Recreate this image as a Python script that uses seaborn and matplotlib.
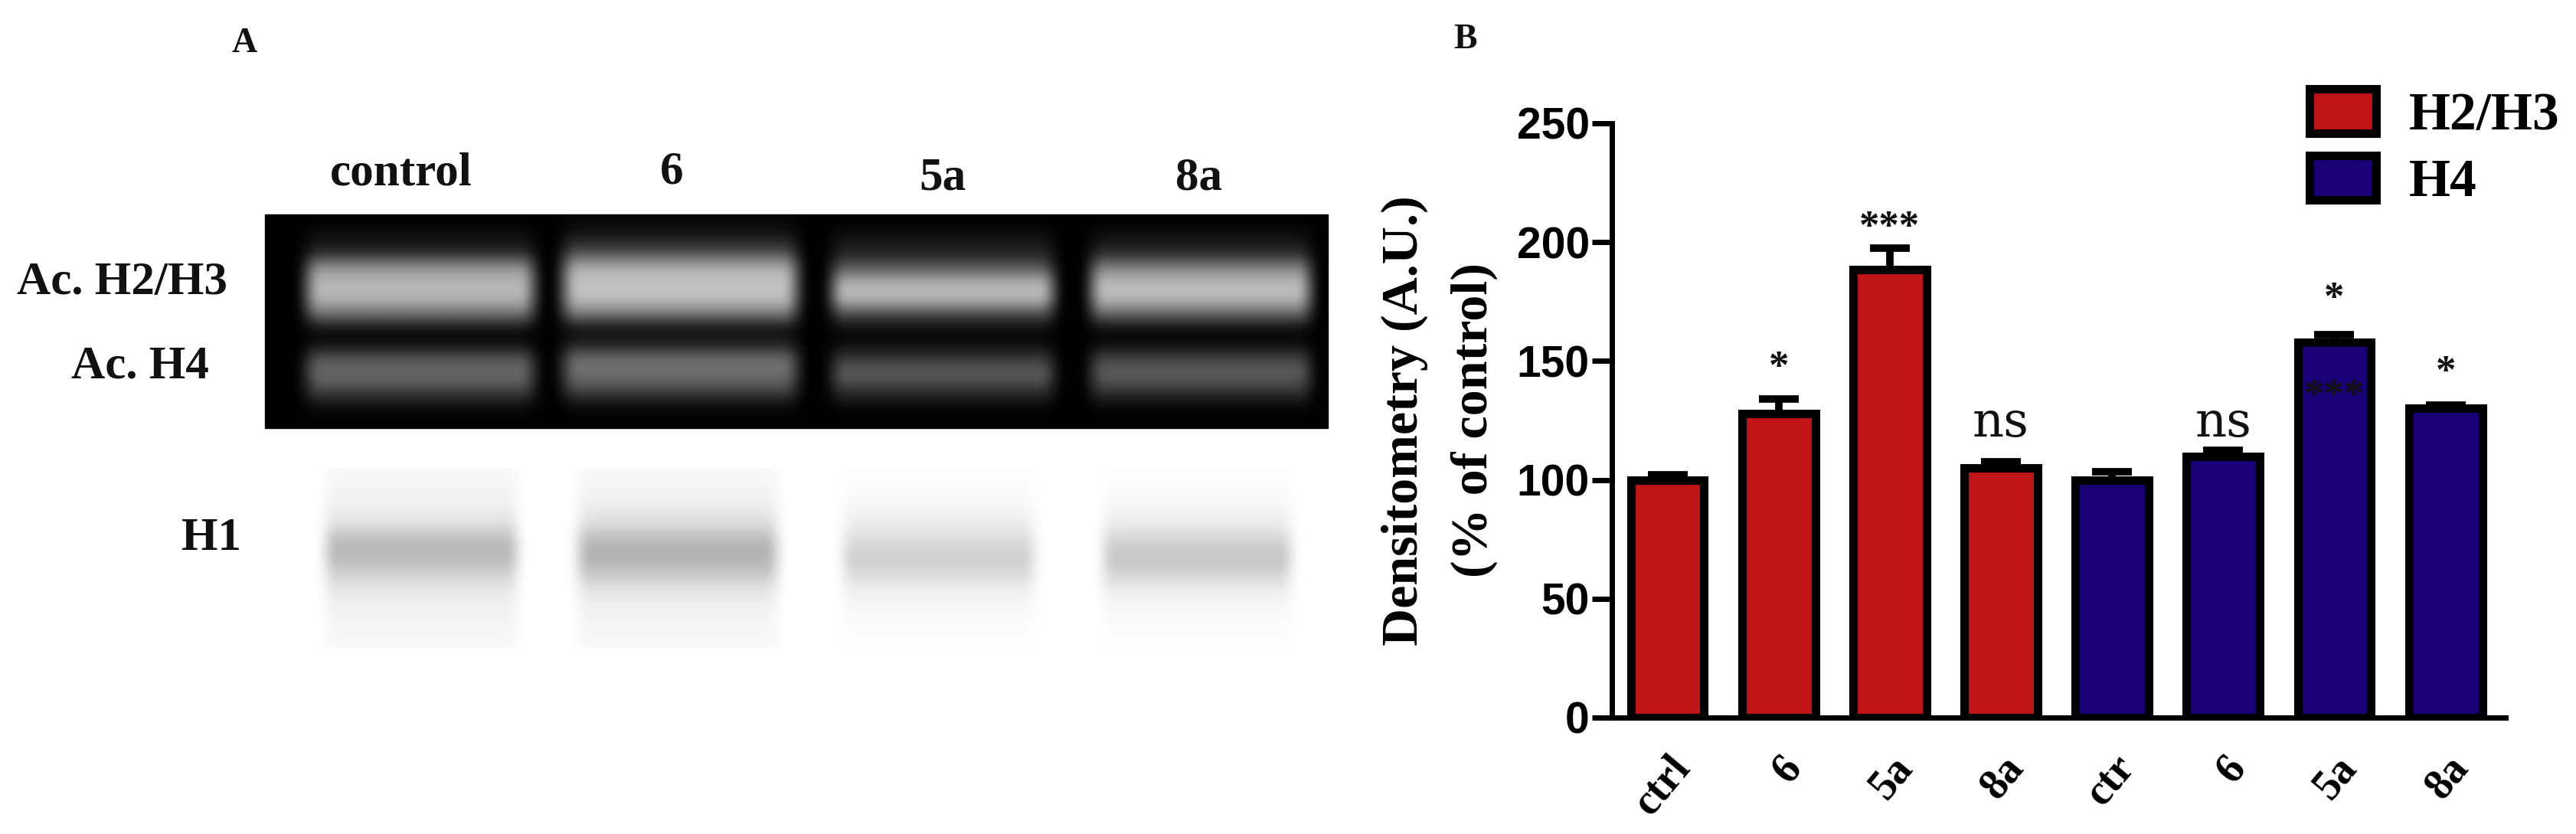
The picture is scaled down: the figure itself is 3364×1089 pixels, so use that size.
import matplotlib
matplotlib.use("Agg")
import matplotlib.pyplot as plt
from matplotlib.patches import Rectangle
import numpy as np
import pandas as pd
import seaborn as sns

# bar chart values (panel B)
conditions = ["ctrl", "6", "5a", "8a", "ctr", "6", "5a", "8a"]
groups = ["H2/H3", "H2/H3", "H2/H3", "H2/H3", "H4", "H4", "H4", "H4"]
values = [100, 128, 188.5, 105, 100, 110, 158, 130]
errors = [2, 6, 9, 2.5, 3.5, 2.5, 3, 1.5]
y_ticks = [0, 50, 100, 150, 200, 250]

# significance marks: bar index, height, text
mark_bars = [1, 2, 3, 5, 6, 6, 7]
mark_heights = [147, 206, 124, 124, 176, 135, 145]
mark_texts = ["*", "***", "ns", "ns", "*", "***", "*"]

# gel lanes (panel A), brightness read down each lane
lane_names = ["control", "6", "5a", "8a"]
top_gel = [
    [0.00, 0.07, 0.14, 0.60, 0.72, 0.72, 0.45, 0.04, 0.04, 0.36, 0.42, 0.28, 0.05, 0.00],
    [0.02, 0.10, 0.30, 0.70, 0.76, 0.76, 0.48, 0.04, 0.12, 0.44, 0.44, 0.28, 0.04, 0.00],
    [0.00, 0.07, 0.13, 0.34, 0.72, 0.74, 0.30, 0.03, 0.03, 0.24, 0.38, 0.20, 0.03, 0.00],
    [0.00, 0.07, 0.15, 0.52, 0.74, 0.74, 0.40, 0.03, 0.03, 0.28, 0.38, 0.22, 0.03, 0.00],
]
h1_gel = [
    [0.97, 0.95, 0.93, 0.87, 0.72, 0.72, 0.82, 0.91, 0.94, 0.96, 0.97],
    [0.97, 0.95, 0.92, 0.86, 0.71, 0.69, 0.78, 0.90, 0.94, 0.96, 0.97],
    [0.99, 0.98, 0.96, 0.92, 0.85, 0.80, 0.85, 0.94, 0.97, 0.98, 0.99],
    [0.99, 0.98, 0.96, 0.92, 0.82, 0.76, 0.83, 0.93, 0.97, 0.98, 0.99],
]
lane_fade = [0, 0.5] + [1] * 22 + [0.5, 0]

W, H = 3364, 1089
RED = "#c01417"
BLUE = "#1a0078"
SERIF = "Liberation Serif"

sns.set_style("white")
fig = plt.figure(figsize=(W / 100, H / 100), dpi=100, facecolor="white")

# panel A in pixel coordinates
ax_a = fig.add_axes([0, 0, 1, 1], zorder=0)
ax_a.set_xlim(0, W)
ax_a.set_ylim(H, 0)
ax_a.axis("off")

ax_a.add_patch(Rectangle((346, 280), 1388, 279, color="black", zorder=1))

top_lanes = [(382, 716), (717, 1060), (1069, 1394), (1407, 1729)]
for span, rows in zip(top_lanes, top_gel):
    img = np.outer(rows, lane_fade)
    ax_a.imshow(img, cmap="gray", vmin=0, vmax=1, aspect="auto", interpolation="bicubic",
                extent=(span[0], span[1], 559, 280), zorder=2)

h1_lanes = [(410, 691), (739, 1031), (1086, 1366), (1426, 1701)]
for span, rows in zip(h1_lanes, h1_gel):
    img = 1 - np.outer(1 - np.array(rows), lane_fade)
    ax_a.imshow(img, cmap="gray", vmin=0, vmax=1, aspect="auto", interpolation="bicubic",
                extent=(span[0], span[1], 845, 612), zorder=2)
ax_a.set_xlim(0, W)
ax_a.set_ylim(H, 0)


def label(x, y, s, size=44):
    ax_a.text(x, y, s, family=SERIF, weight="bold", fontsize=size, ha="center", va="center",
              color="#111111")


label(319, 57, "A", 33)
label(1914, 52, "B", 33)
for x, y, name in zip([524, 877, 1231, 1566], [227, 224, 232, 232], lane_names):
    label(x, y, name)
label(160, 369, "Ac. H2/H3")
label(183, 479, "Ac. H4")
label(276, 703, "H1")

# panel B
ax = fig.add_axes([2105 / W, 1 - 937 / H, (3272 - 2105) / W, (937 - 161) / H], zorder=3)
ax.patch.set_alpha(0)
df = pd.DataFrame({"bar": range(len(values)), "value": values, "group": groups})
sns.barplot(data=df, x="bar", y="value", hue="group", palette=[RED, BLUE], dodge=False,
            width=0.66, edgecolor="black", linewidth=8, saturation=1, ax=ax)
ax.errorbar(df["bar"], values, yerr=[[0] * len(errors), errors], fmt="none", ecolor="black",
            elinewidth=7, capsize=19, capthick=7, zorder=1)

for i, h, t in zip(mark_bars, mark_heights, mark_texts):
    if t == "ns":
        ax.text(i, h, t, family="DejaVu Serif", fontsize=46, ha="center", va="center",
                color="#111111", zorder=5)
    else:
        ax.text(i, h, t, family=SERIF, weight="bold", fontsize=38, ha="center", va="center",
                color="#111111", zorder=5)

ax.set_xlim(-0.5, 7.54)
ax.set_ylim(0, 250)
ax.set_yticks(y_ticks)
ax.set_yticklabels(y_ticks, family="Liberation Sans", weight="bold", fontsize=41, color="black")
ax.set_xticks(range(len(conditions)))
ax.set_xticklabels(conditions, family=SERIF, weight="bold", fontsize=40, rotation=50, ha="right",
                   va="top", rotation_mode="anchor", color="black")
ax.tick_params(axis="y", length=19, width=5, pad=2, left=True, color="black")
ax.tick_params(axis="x", length=0, pad=29)
ax.set_xlabel("")
ax.set_ylabel("Densitometry (A.U.)\n(% of control)", family=SERIF, weight="bold", fontsize=49,
              labelpad=18, linespacing=1.6, color="black")
sns.despine(ax=ax)
for side in ["left", "bottom"]:
    ax.spines[side].set_linewidth(5)
    ax.spines[side].set_color("black")

leg = ax.legend(title=None, loc="upper left", bbox_to_anchor=(3016 / W, 1 - 116 / H),
                bbox_transform=fig.transFigure, frameon=False,
                prop={"family": SERIF, "weight": "bold", "size": 50},
                handlelength=1.25, handleheight=0.9, labelspacing=0.28, handletextpad=0.62,
                borderpad=0, borderaxespad=0)
for txt in leg.get_texts():
    txt.set_color("black")

fig.savefig("out.png", dpi=100)
plt.close(fig)
